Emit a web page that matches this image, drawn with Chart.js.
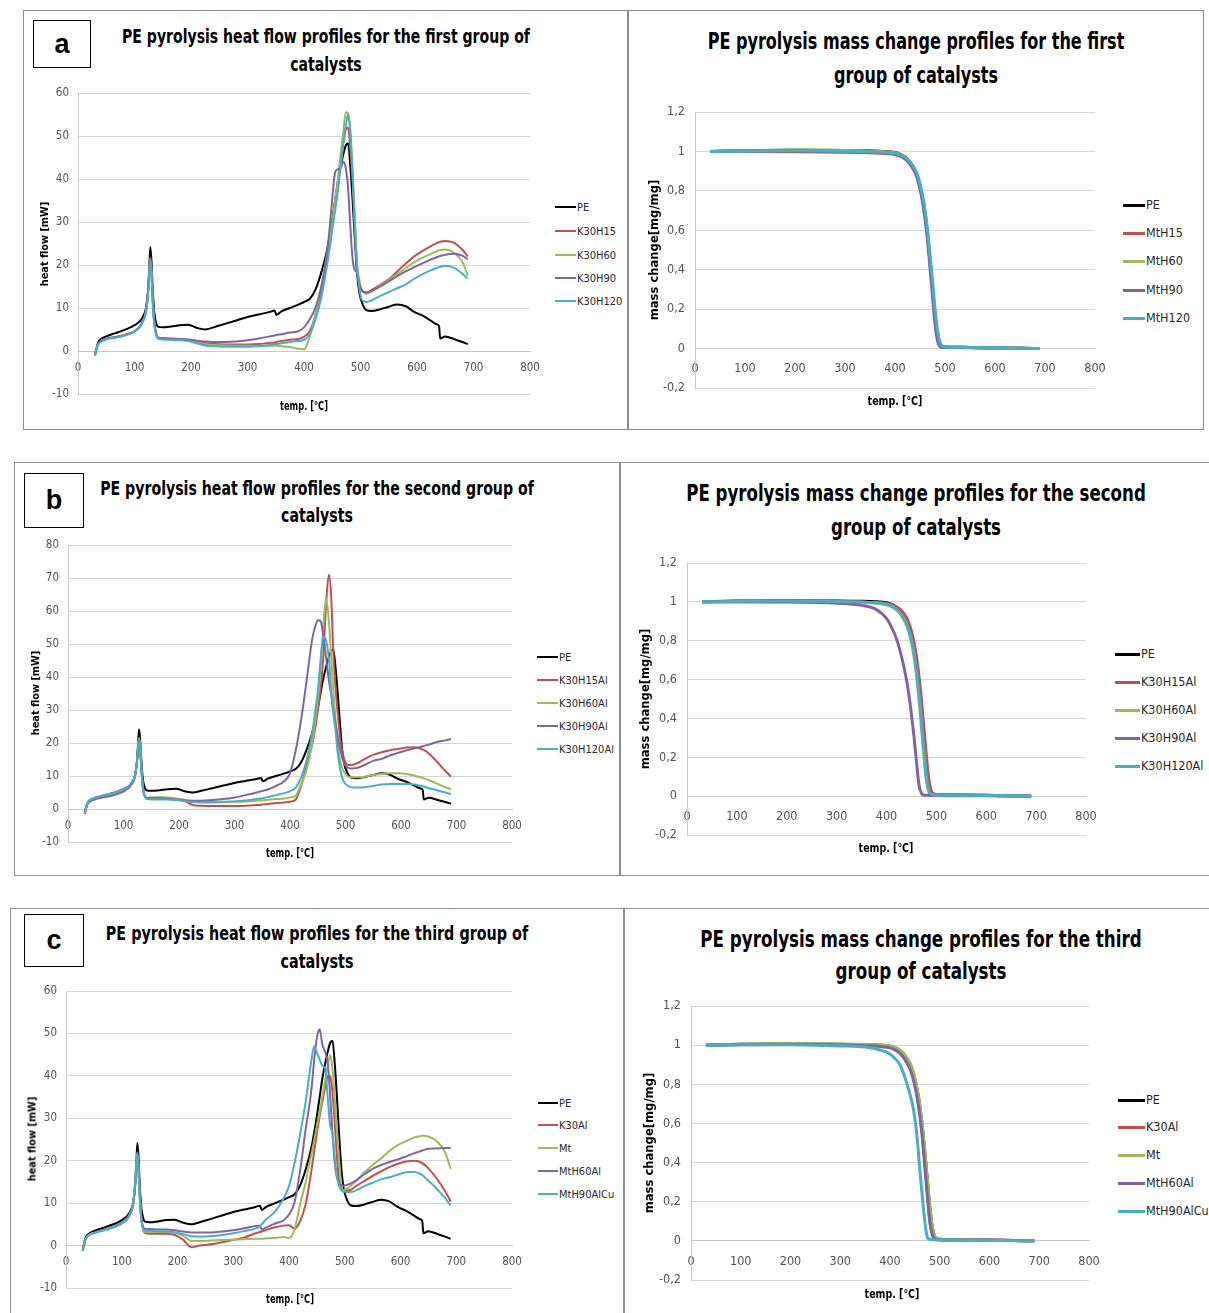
<!DOCTYPE html>
<html>
<head>
<meta charset="utf-8">
<script src="https://cdn.jsdelivr.net/npm/chart.js@4.4.1/dist/chart.umd.min.js"></script>
<style>
  html, body { margin:0; padding:0; background:#fff; }
  body { position:relative; width:1209px; height:1313px; overflow:hidden; }
  .panel { position:absolute; border:1px solid #8c8c8c; box-sizing:border-box; background:#fff; }
  .lbl { position:absolute; border:1.5px solid #000; box-sizing:border-box; display:flex; align-items:center; justify-content:center; font:bold 27px 'Liberation Sans', 'DejaVu Sans', sans-serif; color:#000; background:#fff; }
  canvas { position:absolute; }
</style>
</head>
<body>
<script>
// ---------------- DATA ----------------
const HF_TEMP = [30, 35, 40, 50, 60, 70, 80, 90, 100, 110, 115, 120, 124, 126, 128, 130, 132, 135, 139, 143,
  150, 165, 180, 195, 210, 225, 240, 260, 280, 300, 320, 340, 348, 351, 360, 375, 390, 400, 410, 420,
  430, 440, 445, 450, 455, 460, 465, 470, 474, 478, 482, 486, 490, 494, 498, 502, 506, 510, 520, 535,
  550, 565, 580, 595, 610, 625, 635, 639, 641, 650, 665, 680, 690];

const HF_PE = [-1.0, 1.8, 2.7, 3.4, 3.9, 4.3, 4.8, 5.3, 6.0, 7.0, 8.0, 9.8, 14, 19, 24.2, 21, 15, 9, 6.2, 5.6,
  5.5, 5.7, 6.0, 6.1, 5.4, 5.0, 5.5, 6.3, 7.1, 7.9, 8.5, 9.1, 9.4, 8.4, 9.2, 10.0, 10.8, 11.4, 12.1, 14.2,
  18.0, 23.0, 26.5, 30.5, 35, 39.5, 43, 46, 47.8, 48.3, 43, 35, 26, 18, 13.5, 11.5, 10.2, 9.5, 9.3, 9.7,
  10.3, 10.8, 10.4, 9.1, 8.2, 7.0, 6.2, 5.8, 2.9, 3.4, 2.8, 2.1, 1.6];

// group a
const HF_A_K30H15 = [-1.0, 1.4, 2.2, 2.8, 3.1, 3.3, 3.6, 4.0, 4.6, 5.8, 7.0, 9.0, 13.5, 18, 21.5, 18.5, 12.5, 6.5, 3.6, 3.0,
  2.9, 2.8, 2.7, 2.5, 2.2, 1.8, 1.6, 1.5, 1.5, 1.5, 1.6, 1.9, 2.0, 2.1, 2.3, 2.6, 2.8, 3.3, 4.6, 8.2,
  13.5, 20.8, 25, 29.5, 34.5, 39, 44.5, 49, 51.5, 52, 46.8, 40, 30, 19.5, 15.5, 14.2, 13.7, 13.6, 14.2, 15.4,
  16.7, 18.5, 20.3, 22, 23.3, 24.4, 25.1, 25.3, 25.4, 25.6, 25.2, 23.6, 22];
const HF_A_K30H60 = [-1.0, 1.4, 2.2, 2.8, 3.1, 3.3, 3.6, 4.0, 4.6, 5.8, 7.0, 9.0, 13.5, 18, 21.5, 18.5, 12.5, 6.5, 3.5, 2.9,
  2.8, 2.7, 2.6, 2.4, 2.0, 1.6, 1.4, 1.3, 1.2, 1.2, 1.2, 1.2, 1.2, 1.2, 1.1, 0.9, 0.5, 0.4, 3.3, 8.5,
  14.6, 22, 26, 30, 34.8, 40, 46, 51.5, 55.5, 55.3, 51.5, 42, 31, 20, 16.5, 14.2, 13.6, 13.3, 13.8, 15.2,
  16.5, 17.9, 19.3, 20.6, 21.7, 22.6, 23.2, 23.4, 23.5, 23.6, 22.9, 20.8, 17.5];
const HF_A_K30H90 = [-1.0, 1.4, 2.2, 2.8, 3.1, 3.3, 3.6, 4.0, 4.6, 5.8, 7.0, 9.2, 14, 18.5, 21.8, 19, 13, 7, 3.8, 3.1,
  3.0, 2.9, 2.8, 2.7, 2.4, 2.2, 2.1, 2.1, 2.2, 2.5, 2.9, 3.4, 3.6, 3.7, 3.9, 4.3, 4.6, 5.5, 7.3, 10,
  14.5, 22, 28, 35.5, 41.5, 42.3, 42.6, 44, 42.5, 38, 29, 21.5, 18.8, 18.3, 15.5, 14.2, 13.7, 13.6, 14.0, 15.0,
  16.2, 17.4, 18.5, 19.5, 20.4, 21.3, 21.8, 22.0, 22.1, 22.4, 22.6, 22.2, 21.3];
const HF_A_K30H120 = [-1.0, 1.4, 2.1, 2.7, 3.0, 3.2, 3.5, 3.9, 4.5, 5.7, 6.9, 8.8, 13, 17.5, 21, 18, 12, 6.2, 3.4, 2.8,
  2.7, 2.6, 2.5, 2.3, 1.8, 1.3, 1.1, 1.0, 1.0, 1.0, 1.1, 1.4, 1.6, 1.6, 1.8, 2.1, 2.3, 2.6, 3.8, 7.2,
  12, 19.3, 23.5, 28, 32.5, 37.3, 43, 48.5, 52.5, 55, 50.5, 41, 28.2, 19.5, 14.5, 12, 11.6, 11.4, 11.8, 12.8,
  13.7, 14.6, 15.5, 16.8, 17.9, 18.8, 19.3, 19.5, 19.6, 19.8, 19.4, 18.0, 16.8];

// group b
const HF_B_K30H15AL = [-1.5, 1.6, 2.6, 3.3, 3.7, 4.1, 4.5, 5.0, 5.7, 6.8, 7.8, 9.5, 14, 18, 21.5, 19, 13, 6.5, 3.6, 3.1,
  3.3, 3.3, 3.3, 3.0, 2.4, 1.2, 1.0, 0.9, 0.9, 0.9, 1.0, 1.2, 1.3, 1.4, 1.5, 1.8, 2.0, 2.2, 2.8, 7.0,
  13, 19.5, 24, 29.5, 36.5, 46, 62, 71, 65, 48, 37, 29, 22, 17.5, 15, 13.6, 13.3, 13.3, 13.8, 15.2,
  16.4, 17.2, 17.8, 18.2, 18.6, 18.7, 18.3, 18.0, 17.9, 16.8, 14.3, 11.5, 9.8];
const HF_B_K30H60AL = [-1.5, 1.6, 2.6, 3.3, 3.7, 4.1, 4.5, 5.0, 5.7, 6.8, 7.8, 9.5, 14, 18, 21.5, 19, 13, 6.5, 3.8, 3.4,
  3.5, 3.6, 3.5, 3.2, 2.8, 2.4, 2.2, 2.2, 2.2, 2.2, 2.3, 2.5, 2.6, 2.6, 2.8, 3.0, 3.2, 3.5, 4.0, 7.5,
  12, 20, 26, 33, 43, 55, 64, 57, 47, 36, 27, 20, 14.8, 12.5, 11, 10.2, 9.7, 9.6, 9.6, 9.8,
  10.3, 10.6, 10.8, 10.8, 10.6, 10.1, 9.6, 9.4, 9.3, 8.8, 7.7, 6.6, 6.0];
const HF_B_K30H90AL = [-1.5, 1.4, 2.3, 3.0, 3.4, 3.7, 4.1, 4.6, 5.3, 6.5, 7.6, 9.3, 14, 18, 21, 18.5, 12.5, 6.5, 3.7, 3.3,
  3.3, 3.2, 3.1, 2.9, 2.6, 2.5, 2.5, 2.7, 3.0, 3.5, 4.2, 5.0, 5.4, 5.5, 5.9, 7.0, 8.5, 10.8, 17.5, 27,
  39, 51.5, 55, 57.2, 57, 52.5, 46, 39, 35, 30, 26, 22, 18.5, 15.5, 13.6, 12.8, 12.4, 12.3, 12.4, 13.4,
  14.6, 15.2, 16.2, 17.0, 17.8, 18.4, 18.8, 19.0, 19.1, 19.5, 20.3, 20.8, 21.2];
const HF_B_K30H120AL = [-1.5, 1.8, 2.8, 3.5, 4.0, 4.4, 4.8, 5.3, 6.0, 7.0, 8.0, 9.6, 13.5, 17.5, 20.8, 18.5, 12.5, 6.5, 3.6, 3.0,
  2.9, 2.9, 2.9, 2.7, 2.4, 2.1, 2.0, 2.0, 2.1, 2.3, 2.6, 3.0, 3.2, 3.3, 3.6, 4.2, 4.8, 5.4, 6.4, 9.5,
  14.8, 23, 29, 35.5, 45, 52.3, 51, 46, 36, 29, 24, 17, 12.5, 9.5, 8.0, 7.3, 6.9, 6.6, 6.5, 6.6,
  7.0, 7.4, 7.6, 7.6, 7.6, 7.4, 7.0, 6.9, 6.8, 6.3, 5.7, 5.0, 4.5];

// group c
const HF_C_K30AL = [-1.2, 1.5, 2.4, 3.0, 3.4, 3.8, 4.2, 4.7, 5.3, 6.4, 7.5, 9.5, 14.5, 18.5, 21.5, 18.5, 12.5, 6.5, 3.5, 2.9,
  2.8, 2.8, 2.8, 2.5, 1.4, -0.4, 0.0, 0.3, 0.8, 1.3, 1.9, 2.9, 3.2, 3.3, 3.7, 4.3, 4.7, 4.8, 4.0, 5.8,
  9.8, 17.5, 22, 26.5, 30.5, 34, 37.3, 40, 39.8, 36, 29, 21, 15, 13.3, 13, 13, 13, 13.1, 14.0, 15.2,
  16.4, 17.5, 18.5, 19.3, 19.8, 20.0, 19.7, 19.4, 19.3, 18.2, 15.8, 12.8, 10.4];
const HF_C_MT = [-1.2, 1.4, 2.3, 2.9, 3.3, 3.6, 4.0, 4.5, 5.1, 6.2, 7.3, 9.3, 14, 18, 21, 18, 12, 6.2, 3.5, 3.2,
  3.2, 3.2, 3.2, 3.0, 2.3, 1.1, 1.1, 1.2, 1.3, 1.4, 1.5, 1.6, 1.6, 1.6, 1.7, 1.8, 2.0, 1.8, 3.8, 9.8,
  15, 21.5, 24.7, 28.3, 31.5, 35.2, 39, 42.7, 45, 41.5, 34.5, 27, 20, 14.2, 13, 13.3, 13.6, 14, 15.2, 17.2,
  19, 20.5, 22.3, 23.7, 24.6, 25.5, 25.8, 25.9, 25.9, 25.7, 24.6, 22, 18.1];
const HF_C_MTH60AL = [-1.2, 1.5, 2.4, 3.0, 3.4, 3.8, 4.2, 4.7, 5.3, 6.4, 7.5, 9.5, 14.5, 18.5, 21.5, 18.5, 12.5, 6.8, 4.2, 3.9,
  3.9, 3.8, 3.8, 3.6, 3.3, 3.1, 3.1, 3.1, 3.3, 3.6, 4.1, 4.6, 4.7, 3.8, 4.3, 5.2, 5.9, 7.3, 10.2, 17.7,
  27.5, 36.5, 43.5, 49, 51, 47.3, 45.6, 42.5, 35, 26.5, 19.5, 16, 14.6, 14.2, 14.1, 14.2, 14.4, 14.6, 15.3, 16.8,
  18.1, 19.0, 19.7, 20.3, 21.0, 21.8, 22.2, 22.4, 22.5, 22.8, 22.9, 23.0, 23.0];
const HF_C_MTH90ALCU = [-1.2, 1.5, 2.4, 3.0, 3.4, 3.8, 4.2, 4.7, 5.3, 6.4, 7.5, 9.6, 15, 19.5, 22, 18.8, 12.5, 6.5, 3.8, 3.5,
  3.5, 3.4, 3.4, 3.1, 2.7, 2.2, 2.1, 2.2, 2.5, 2.9, 3.4, 4.0, 4.6, 5.0, 6.3, 8.0, 11, 14, 19.5, 26.3,
  34, 43.5, 47, 45.5, 43.8, 42.4, 41.7, 34, 28.2, 26.5, 20.8, 16.5, 14, 13, 12.7, 12.6, 12.6, 12.6, 13.0, 14.0,
  14.8, 15.6, 16.1, 16.7, 17.3, 17.4, 16.9, 16.6, 16.4, 15.3, 13.4, 11.2, 9.4];

// mass change
const MASS_TEMP = [30, 100, 200, 300, 350, 380, 400, 410, 420, 430, 440, 445, 450, 455, 460, 465, 470, 475, 480, 485, 490, 495, 500, 550, 600, 650, 690];
const MASS_PE = [1.0, 1.004, 1.006, 1.005, 1.003, 1.0, 0.995, 0.987, 0.972, 0.945, 0.905, 0.872, 0.825, 0.765, 0.685, 0.58, 0.45, 0.31, 0.17, 0.07, 0.02, 0.01, 0.008, 0.006, 0.004, 0.002, 0.0];
const MASS_A_MTH15 = [1.0, 1.0, 0.999, 0.996, 0.993, 0.99, 0.984, 0.976, 0.962, 0.935, 0.895, 0.862, 0.815, 0.755, 0.675, 0.57, 0.44, 0.30, 0.16, 0.065, 0.02, 0.01, 0.008, 0.006, 0.004, 0.002, 0.0];
const MASS_A_MTH60 = [1.0, 1.004, 1.008, 1.005, 1.002, 0.999, 0.994, 0.986, 0.97, 0.943, 0.903, 0.87, 0.823, 0.763, 0.683, 0.578, 0.447, 0.305, 0.165, 0.068, 0.02, 0.01, 0.008, 0.006, 0.004, 0.002, 0.0];
const MASS_A_MTH90 = [1.0, 1.002, 1.003, 1.0, 0.997, 0.994, 0.988, 0.98, 0.965, 0.937, 0.895, 0.86, 0.81, 0.745, 0.66, 0.55, 0.41, 0.265, 0.125, 0.04, 0.01, 0.006, 0.005, 0.004, 0.003, 0.002, 0.0];
const MASS_A_MTH120 = [1.0, 1.002, 1.003, 1.001, 0.998, 0.995, 0.99, 0.983, 0.97, 0.946, 0.91, 0.88, 0.836, 0.78, 0.705, 0.605, 0.48, 0.345, 0.205, 0.095, 0.032, 0.012, 0.008, 0.006, 0.004, 0.002, 0.0];

const MASS_B_K30H15AL = [1.0, 1.0, 1.0, 0.999, 0.998, 0.996, 0.992, 0.986, 0.975, 0.955, 0.92, 0.89, 0.848, 0.795, 0.72, 0.62, 0.495, 0.35, 0.205, 0.085, 0.025, 0.012, 0.009, 0.006, 0.004, 0.002, 0.0];
const MASS_B_K30H60AL = [1.0, 1.003, 1.004, 1.002, 0.998, 0.993, 0.985, 0.975, 0.958, 0.928, 0.88, 0.843, 0.79, 0.72, 0.625, 0.5, 0.355, 0.205, 0.08, 0.02, 0.008, 0.006, 0.005, 0.004, 0.003, 0.002, 0.0];
const MASS_B_K30H90AL = [1.0, 1.0, 0.999, 0.993, 0.982, 0.96, 0.915, 0.87, 0.81, 0.72, 0.60, 0.52, 0.42, 0.31, 0.18, 0.06, 0.015, 0.006, 0.005, 0.004, 0.003, 0.003, 0.003, 0.002, 0.002, 0.001, 0.0];
const MASS_B_K30H120AL = [1.0, 1.003, 1.004, 1.002, 0.999, 0.995, 0.988, 0.979, 0.963, 0.935, 0.89, 0.855, 0.805, 0.74, 0.65, 0.53, 0.385, 0.235, 0.10, 0.03, 0.01, 0.007, 0.006, 0.004, 0.003, 0.002, 0.0];

const MASS_C_K30AL = [1.0, 1.003, 1.004, 1.003, 1.0, 0.996, 0.99, 0.98, 0.962, 0.932, 0.887, 0.852, 0.803, 0.74, 0.655, 0.545, 0.40, 0.25, 0.11, 0.035, 0.012, 0.008, 0.006, 0.004, 0.003, 0.002, 0.0];
const MASS_C_MT = [1.0, 1.004, 1.007, 1.006, 1.004, 1.001, 0.996, 0.989, 0.975, 0.95, 0.91, 0.878, 0.832, 0.772, 0.695, 0.59, 0.46, 0.32, 0.18, 0.075, 0.022, 0.01, 0.008, 0.006, 0.004, 0.002, 0.0];
const MASS_C_MTH60AL = [1.0, 1.002, 1.003, 1.001, 0.997, 0.993, 0.986, 0.976, 0.958, 0.926, 0.878, 0.84, 0.79, 0.725, 0.638, 0.525, 0.38, 0.23, 0.10, 0.03, 0.01, 0.007, 0.006, 0.004, 0.003, 0.002, 0.0];
const MASS_C_MTH90ALCU = [1.0, 1.002, 1.002, 0.996, 0.99, 0.975, 0.955, 0.932, 0.9, 0.835, 0.75, 0.7, 0.625, 0.515, 0.36, 0.225, 0.10, 0.02, 0.008, 0.006, 0.005, 0.004, 0.004, 0.003, 0.002, 0.001, 0.0];

const TEMP_TICKS = [0, 100, 200, 300, 400, 500, 600, 700, 800];
const LABELS_A_HF = ['PE', 'K30H15', 'K30H60', 'K30H90', 'K30H120'];
const LABELS_A_MASS = ['PE', 'MtH15', 'MtH60', 'MtH90', 'MtH120'];
const LABELS_B = ['PE', 'K30H15Al', 'K30H60Al', 'K30H90Al', 'K30H120Al'];
const LABELS_C = ['PE', 'K30Al', 'Mt', 'MtH60Al', 'MtH90AlCu'];
const COLORS = ['#000000', '#c0504d', '#9bbb59', '#8064a2', '#4bacc6'];

// ---------------- RENDERING ----------------
const NARROW = "'Liberation Sans Narrow', 'Arial Narrow', 'DejaVu Sans Condensed', 'Liberation Sans', sans-serif";

function el(tag, css, parent) {
  const e = document.createElement(tag);
  e.style.cssText = css;
  (parent || document.body).appendChild(e);
  return e;
}

// panels
[[23,10,605,420],[628,10,576,420],[14,462,606,414],[620,462,590,414],[10,908,614,420],[624,908,590,420]]
  .forEach(p => { const d = el('div', `left:${p[0]}px;top:${p[1]}px;width:${p[2]}px;height:${p[3]}px;`); d.className = 'panel'; });

function makeChart(g) {
  const cw = (g.R - g.L) + 45 + 15, ch = (g.B - g.T) + 20;
  const cv = document.createElement('canvas');
  cv.width = cw; cv.height = ch;
  cv.style.left = (g.L - 45) + 'px'; cv.style.top = (g.T - 10) + 'px';
  cv.style.width = cw + 'px'; cv.style.height = ch + 'px';
  document.body.appendChild(cv);
  const n = g.series.length;
  new Chart(cv.getContext('2d'), {
    type: 'line',
    data: {
      datasets: g.series.map((s, i) => ({
        label: g.labels[i],
        data: g.temps.map((t, k) => ({x: t, y: s[k]})),
        borderColor: COLORS[i],
        backgroundColor: COLORS[i],
        borderWidth: g.lw,
        pointRadius: 0,
        fill: false,
        cubicInterpolationMode: 'monotone',
        order: n - 1 - i
      }))
    },
    options: {
      responsive: false,
      maintainAspectRatio: false,
      animation: false,
      events: [],
      layout: { padding: { left: 0, top: 10, right: 15, bottom: 10 }, autoPadding: false },
      plugins: { legend: { display: false }, tooltip: { enabled: false }, title: { display: false } },
      scales: {
        x: {
          type: 'linear', min: 0, max: 800,
          position: { y: 0 },
          afterBuildTicks: (sc) => { sc.ticks = TEMP_TICKS.map(v => ({value: v})); },
          afterFit: (sc) => { sc.height = 0; sc.paddingLeft = 0; sc.paddingRight = 0; sc.paddingTop = 0; sc.paddingBottom = 0; },
          ticks: { padding: g.xpad, color: '#505050', font: { family: NARROW, size: g.fs }, maxRotation: 0, autoSkip: false },
          grid: { display: false, drawTicks: false },
          border: { display: true, color: '#c8c8c8', width: 1 }
        },
        y: {
          type: 'linear', min: g.ymin, max: g.ymax,
          afterBuildTicks: (sc) => { sc.ticks = g.yticks.map(v => ({value: v})); },
          afterFit: (sc) => { sc.width = 45; sc.paddingTop = 0; sc.paddingBottom = 0; sc.paddingLeft = 0; sc.paddingRight = 0; },
          ticks: { padding: g.ypad, color: '#505050', font: { family: NARROW, size: g.fs }, callback: g.fmt, autoSkip: false },
          grid: { color: '#d6d6d6', lineWidth: 1, drawTicks: false },
          border: { display: true, color: '#c8c8c8', width: 1 }
        }
      }
    }
  });
}

const HF_TICKS_60 = [-10, 0, 10, 20, 30, 40, 50, 60];
const HF_TICKS_80 = [-10, 0, 10, 20, 30, 40, 50, 60, 70, 80];
const MASS_TICKS = [-0.2, 0, 0.2, 0.4, 0.6, 0.8, 1.0, 1.2];
const fmtHF = v => String(v);
const fmtMass = v => String(Math.round(v * 10) / 10).replace('.', ',');

makeChart({L:78, R:530, T:93, B:394, ymin:-10, ymax:60, yticks:HF_TICKS_60, fmt:fmtHF, fs:11.5, xpad:10, ypad:9, lw:2,
  temps:HF_TEMP, labels:LABELS_A_HF, series:[HF_PE, HF_A_K30H15, HF_A_K30H60, HF_A_K30H90, HF_A_K30H120]});
makeChart({L:68, R:512, T:545, B:842, ymin:-10, ymax:80, yticks:HF_TICKS_80, fmt:fmtHF, fs:11.5, xpad:10, ypad:9, lw:2,
  temps:HF_TEMP, labels:LABELS_B, series:[HF_PE, HF_B_K30H15AL, HF_B_K30H60AL, HF_B_K30H90AL, HF_B_K30H120AL]});
makeChart({L:66, R:512, T:991, B:1288, ymin:-10, ymax:60, yticks:HF_TICKS_60, fmt:fmtHF, fs:11.5, xpad:10, ypad:9, lw:2,
  temps:HF_TEMP, labels:LABELS_C, series:[HF_PE, HF_C_K30AL, HF_C_MT, HF_C_MTH60AL, HF_C_MTH90ALCU]});
makeChart({L:695, R:1095, T:112, B:388, ymin:-0.2, ymax:1.2, yticks:MASS_TICKS, fmt:fmtMass, fs:12.5, xpad:13, ypad:10, lw:3,
  temps:MASS_TEMP, labels:LABELS_A_MASS, series:[MASS_PE, MASS_A_MTH15, MASS_A_MTH60, MASS_A_MTH90, MASS_A_MTH120]});
makeChart({L:687, R:1086, T:563, B:835, ymin:-0.2, ymax:1.2, yticks:MASS_TICKS, fmt:fmtMass, fs:12.5, xpad:13, ypad:10, lw:3,
  temps:MASS_TEMP, labels:LABELS_B, series:[MASS_PE, MASS_B_K30H15AL, MASS_B_K30H60AL, MASS_B_K30H90AL, MASS_B_K30H120AL]});
makeChart({L:691, R:1089, T:1006, B:1280, ymin:-0.2, ymax:1.2, yticks:MASS_TICKS, fmt:fmtMass, fs:12.5, xpad:13, ypad:10, lw:3,
  temps:MASS_TEMP, labels:LABELS_C, series:[MASS_PE, MASS_C_K30AL, MASS_C_MT, MASS_C_MTH60AL, MASS_C_MTH90ALCU]});

// text helper: centred at (cx, cy), optionally rotated, compressed to a target width
function text(html, cx, cy, size, bold, targetW, rot, lh) {
  const e = el('div', `position:absolute;left:${cx}px;top:${cy}px;white-space:nowrap;text-align:center;color:#000;` +
    `font:${bold ? 'bold ' : ''}${size}px ${NARROW};line-height:${lh || Math.round(size * 1.2)}px;`);
  e.innerHTML = html;
  const w = e.offsetWidth;
  const s = targetW ? targetW / w : 1;
  e.style.transform = `translate(-50%,-50%)${rot ? ' rotate(-90deg)' : ''} scaleX(${s.toFixed(4)})`;
  return e;
}

// titles
text('PE pyrolysis heat flow profiles for the first group of<br>catalysts', 326, 50, 19, true, 408, false, 28);
text('PE pyrolysis heat flow profiles for the second group of<br>catalysts', 317, 501.5, 19, true, 434, false, 27);
text('PE pyrolysis heat flow profiles for the third group of<br>catalysts', 317, 947, 19, true, 422, false, 28);
text('PE pyrolysis mass change profiles for the first<br>group of catalysts', 916, 58, 22.5, true, 417, false, 34);
text('PE pyrolysis mass change profiles for the second<br>group of catalysts', 916, 510, 22.5, true, 460, false, 34);
text('PE pyrolysis mass change profiles for the third<br>group of catalysts', 921, 955, 22.5, true, 441, false, 32);

// axis titles
text('heat flow [mW]', 44, 244, 11, true, 85, true);
text('heat flow [mW]', 35, 693, 11, true, 85, true);
text('heat flow [mW]', 32, 1139, 11, true, 85, true);
text('temp. [°C]', 304, 406, 11.5, true, 48);
text('temp. [°C]', 290, 853, 11.5, true, 48);
text('temp. [°C]', 290, 1299, 11.5, true, 48);
text('mass change[mg/mg]', 653, 250, 12.5, true, 140, true);
text('mass change[mg/mg]', 644, 699, 12.5, true, 140, true);
text('mass change[mg/mg]', 648, 1143, 12.5, true, 140, true);
text('temp. [°C]', 895, 401, 13, true, 55);
text('temp. [°C]', 886, 848, 13, true, 55);
text('temp. [°C]', 892, 1294, 13, true, 55);

// legends
function legend(names, lineX, lineW, textX, ys, size, lh) {
  names.forEach((nm, i) => {
    el('div', `position:absolute;left:${lineX}px;top:${ys[i] - lh / 2}px;width:${lineW}px;height:${lh}px;background:${COLORS[i]};`);
    const t = el('div', `position:absolute;left:${textX}px;top:${ys[i]}px;transform:translateY(-50%);white-space:nowrap;` +
      `font:${size}px ${NARROW};color:#262626;line-height:1;`);
    t.textContent = nm;
  });
}
legend(LABELS_A_HF, 555, 21, 577, [207, 231, 255, 278, 301], 11, 2.5);
legend(LABELS_B, 537, 21, 559, [657, 680, 703, 726, 749], 11, 2.5);
legend(LABELS_C, 538, 20, 559, [1103, 1125, 1148, 1171, 1194], 11, 2.5);
legend(LABELS_A_MASS, 1123, 22, 1146, [205, 233, 261, 290, 318], 12.5, 3);
legend(LABELS_B, 1115, 25, 1141, [654, 682, 710, 738, 766], 12.5, 3);
legend(LABELS_C, 1118, 27, 1146, [1100, 1127, 1155, 1183, 1211], 12.5, 3);

// panel letters
[['a',33,20,58,48],['b',24,473,60,55],['c',24,914,60,53]].forEach(b => {
  const d = el('div', `left:${b[1]}px;top:${b[2]}px;width:${b[3]}px;height:${b[4]}px;`);
  d.className = 'lbl'; d.textContent = b[0];
});
</script>
</body>
</html>
